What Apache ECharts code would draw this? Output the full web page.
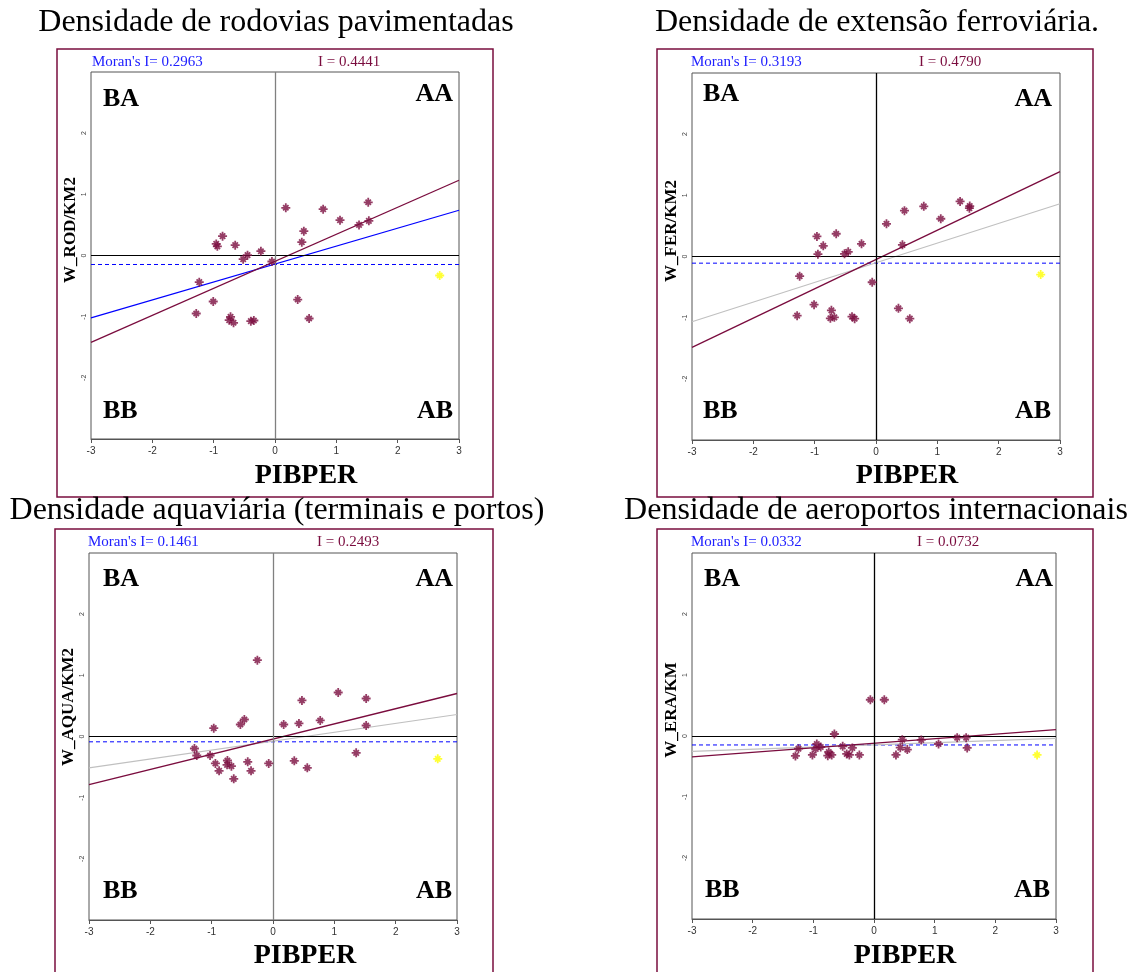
<!DOCTYPE html>
<html><head><meta charset="utf-8">
<script src="https://cdn.jsdelivr.net/npm/echarts@6/dist/echarts.min.js"></script>
<style>html,body{margin:0;padding:0;background:#fff}#c{width:1136px;height:972px}</style>
</head><body><div id="c"></div>
<script>
// ---------- DATA ----------
const titles = ['Densidade de rodovias pavimentadas', 'Densidade de extensão ferroviária.',
  'Densidade aquaviária (terminais e portos)', 'Densidade de aeroportos internacionais'];
const yNames = ['W_ROD/KM2', 'W_FER/KM2', 'W_AQUA/KM2', 'W_ERA/KM'];
const xName = 'PIBPER';
const moranI = ['0.2963', '0.3193', '0.1461', '0.0332'];
const globalI = ['0.4441', '0.4790', '0.2493', '0.0732'];
const quadrants = ['BA', 'AA', 'BB', 'AB'];
const axisMin = -3, axisMax = 3, axisStep = 1;

// Panel 1: rodovias
const rodX = [0.176, 0.785, 1.52, 1.06, 1.37, 1.53, 0.47, 0.437, -0.855, -0.958, -0.94, -0.649, -0.448, -0.519, -0.23, -0.05, -1.235, -1.007, -1.284, -0.725, -0.747, -0.676, -0.394, -0.345, 0.37, 0.556];
const rodY = [0.78, 0.757, 0.87, 0.578, 0.50, 0.567, 0.398, 0.218, 0.316, 0.19, 0.15, 0.169, 0.005, -0.06, 0.07, -0.098, -0.436, -0.752, -0.948, -1.003, -1.057, -1.10, -1.074, -1.063, -0.72, -1.03];
const rodOut = [2.685, -0.327];
const rodFitI = [[-3, -1.42], [3, 1.23]];
const rodFitMoran = [[-3, -1.02], [3, 0.74]];
const rodMean = -0.147;

// Panel 2: ferrovias
const ferX = [0.171, 0.464, 0.779, 1.371, 1.528, 1.523, 1.056, 0.431, -0.649, -0.963, -0.86, -0.947, -0.513, -0.453, -0.236, -0.062, -1.245, -1.01, -1.286, -0.727, -0.744, -0.679, -0.391, -0.348, 0.366, 0.551];
const ferY = [0.535, 0.749, 0.82, 0.90, 0.825, 0.79, 0.617, 0.191, 0.372, 0.328, 0.175, 0.038, 0.044, 0.077, 0.208, -0.421, -0.322, -0.787, -0.967, -0.88, -1.01, -0.995, -0.984, -1.016, -0.847, -1.016];
const ferOut = [2.685, -0.295];
const ferFitI = [[-3, -1.486], [3, 1.388]];
const ferFitMoran = [[-3, -1.066], [3, 0.863]];
const ferMean = -0.109;

// Panel 3: aquaviária
const aquaX = [-0.255, 1.063, 1.519, 0.472, 0.77, 0.423, 0.174, 1.519, -0.467, -0.532, -0.966, -1.281, -1.243, -1.026, -0.939, -0.743, -0.749, -0.678, -0.879, -0.64, -0.412, -0.358, -0.07, 0.347, 0.559, 1.356];
const aquaY = [1.248, 0.719, 0.621, 0.589, 0.262, 0.213, 0.196, 0.18, 0.278, 0.196, 0.136, -0.196, -0.311, -0.311, -0.441, -0.392, -0.463, -0.485, -0.561, -0.692, -0.414, -0.561, -0.441, -0.398, -0.512, -0.267];
const aquaOut = [2.686, -0.365];
const aquaFitI = [[-3, -0.785], [3, 0.703]];
const aquaFitMoran = [[-3, -0.512], [3, 0.36]];
const aquaMean = -0.087;

// Panel 4: aeroportos
const eraX = [-0.06, 0.17, -0.653, -0.943, -0.96, -0.878, -1.245, -1.295, -1.015, -0.746, -0.762, -0.697, -0.516, -0.357, -0.45, -0.406, -0.241, 0.466, 0.433, 0.549, 0.362, 0.779, 1.064, 1.371, 1.519, 1.536];
const eraY = [0.594, 0.594, 0.033, -0.131, -0.213, -0.18, -0.207, -0.327, -0.311, -0.262, -0.322, -0.311, -0.169, -0.196, -0.294, -0.311, -0.311, -0.06, -0.191, -0.223, -0.311, -0.065, -0.131, -0.027, -0.027, -0.196];
const eraOut = [2.688, -0.311];
const eraFitI = [[-3, -0.343], [3, 0.104]];
const eraFitMoran = [[-3, -0.251], [3, -0.038]];
const eraMean = -0.147;

// ---------- LAYOUT / STYLE ----------
const SERIF = '"Liberation Serif", "Times New Roman", serif';
const MAROON = '#7a0c3e';
const FRAME = '#7a0e3e';
const STAR = 'path://M0 8L20 8L20 12L0 12ZM8 0L12 0L12 20L8 20ZM5.4 2.6L17.4 14.6L14.6 17.4L2.6 5.4ZM14.6 2.6L17.4 5.4L5.4 17.4L2.6 14.6Z';

const panels = [
  {xs: rodX, ys: rodY, out: rodOut, fitI: rodFitI, fitM: rodFitMoran, mean: rodMean, moranColor: '#0000ff',
   grid: {left: 91, top: 72, width: 368, height: 367}, vColor: '#808080',
   frame: [57, 49, 436, 448], title: [276, 23], yName: [71, 230], xNameP: [306, 476],
   moranP: [92, 62], iP: [318, 62],
   q: [[103, 99, 'left'], [453, 94, 'right'], [103, 411, 'left'], [453, 411, 'right']]},
  {xs: ferX, ys: ferY, out: ferOut, fitI: ferFitI, fitM: ferFitMoran, mean: ferMean, moranColor: '#c0c0c0',
   grid: {left: 692, top: 73, width: 368, height: 367}, vColor: '#000',
   frame: [657, 49, 436, 448], title: [877, 23], yName: [672, 231], xNameP: [907, 476],
   moranP: [691, 62], iP: [919, 62],
   q: [[703, 94, 'left'], [1052, 99, 'right'], [703, 411, 'left'], [1051, 411, 'right']]},
  {xs: aquaX, ys: aquaY, out: aquaOut, fitI: aquaFitI, fitM: aquaFitMoran, mean: aquaMean, moranColor: '#c0c0c0',
   grid: {left: 89, top: 553, width: 368, height: 367}, vColor: '#808080',
   frame: [55, 529, 438, 470], title: [277, 511], yName: [69, 707], xNameP: [305, 956],
   moranP: [88, 542], iP: [317, 542],
   q: [[103, 579, 'left'], [453, 579, 'right'], [103, 891, 'left'], [452, 891, 'right']]},
  {xs: eraX, ys: eraY, out: eraOut, fitI: eraFitI, fitM: eraFitMoran, mean: eraMean, moranColor: '#c0c0c0',
   grid: {left: 692, top: 553, width: 364, height: 366}, vColor: '#000',
   frame: [657, 529, 436, 470], title: [876, 511], yName: [672, 710], xNameP: [905, 956],
   moranP: [691, 542], iP: [917, 542],
   q: [[704, 579, 'left'], [1053, 579, 'right'], [705, 890, 'left'], [1050, 890, 'right']]}
];

const grids = [], xAxes = [], yAxes = [], series = [], graphics = [];
panels.forEach((p, i) => {
  grids.push(Object.assign({show: true, borderColor: '#555', borderWidth: 1, backgroundColor: '#fff'}, p.grid));
  xAxes.push({gridIndex: i, type: 'value', min: axisMin, max: axisMax, interval: axisStep,
    axisLine: {show: true, onZero: false, lineStyle: {color: '#555', width: 1}},
    axisTick: {show: true, length: 4, lineStyle: {color: '#555'}},
    axisLabel: {fontSize: 10, color: '#333', margin: 7, fontFamily: '"Liberation Sans", sans-serif'},
    splitLine: {show: false}});
  yAxes.push({gridIndex: i, type: 'value', min: axisMin, max: axisMax, interval: axisStep,
    axisLine: {show: false}, axisTick: {show: false},
    axisLabel: {fontSize: 7, color: '#444', rotate: 90, margin: 3,
      formatter: v => (v === axisMin || v === axisMax) ? '' : String(v)},
    splitLine: {show: false}});
  // zero lines
  series.push({type: 'line', xAxisIndex: i, yAxisIndex: i, data: [], silent: true,
    markLine: {symbol: 'none', silent: true, label: {show: false}, animation: false,
      data: [
        {yAxis: 0, lineStyle: {color: '#000', width: 1, type: 'solid'}},
        {xAxis: 0, lineStyle: {color: p.vColor, width: 1.3, type: 'solid'}}
      ]}});
  // dashed mean line
  series.push({type: 'line', xAxisIndex: i, yAxisIndex: i, symbol: 'none', silent: true, animation: false,
    data: [[axisMin, p.mean], [axisMax, p.mean]],
    lineStyle: {color: '#0000ff', width: 1, type: [4, 3]}});
  // moran fit line (blue / gray)
  series.push({type: 'line', xAxisIndex: i, yAxisIndex: i, symbol: 'none', silent: true, animation: false,
    data: p.fitM, lineStyle: {color: p.moranColor, width: 1.2}});
  // I fit line (maroon)
  series.push({type: 'line', xAxisIndex: i, yAxisIndex: i, symbol: 'none', silent: true, animation: false,
    data: p.fitI, lineStyle: {color: MAROON, width: 1.3}});
  // points
  series.push({type: 'scatter', xAxisIndex: i, yAxisIndex: i, symbol: STAR, symbolSize: 9, z: 5, animation: false,
    itemStyle: {color: MAROON}, data: p.xs.map((x, k) => [x, p.ys[k]])});
  series.push({type: 'scatter', xAxisIndex: i, yAxisIndex: i, symbol: STAR, symbolSize: 9, z: 5, animation: false,
    itemStyle: {color: '#ffff00'}, data: [p.out]});

  // frame
  graphics.push({type: 'rect', z: -1, shape: {x: p.frame[0], y: p.frame[1], width: p.frame[2], height: p.frame[3]},
    style: {fill: 'none', stroke: FRAME, lineWidth: 1.5}});
  // title
  graphics.push({type: 'text', x: p.title[0], y: p.title[1], style: {text: titles[i], font: '32px ' + SERIF,
    fill: '#000', align: 'center', verticalAlign: 'middle'}});
  // Moran texts
  graphics.push({type: 'text', x: p.moranP[0], y: p.moranP[1], style: {text: "Moran's I= " + moranI[i],
    font: '15px ' + SERIF, fill: '#2020ff', align: 'left', verticalAlign: 'middle'}});
  graphics.push({type: 'text', x: p.iP[0], y: p.iP[1], style: {text: 'I = ' + globalI[i],
    font: '15px ' + SERIF, fill: MAROON, align: 'left', verticalAlign: 'middle'}});
  // axis names
  graphics.push({type: 'text', x: p.xNameP[0], y: p.xNameP[1], style: {text: xName,
    font: 'bold 28px ' + SERIF, fill: '#000', align: 'center', verticalAlign: 'middle'}});
  graphics.push({type: 'text', x: p.yName[0], y: p.yName[1], rotation: Math.PI / 2, style: {text: yNames[i],
    font: 'bold 17px ' + SERIF, fill: '#000', align: 'center', verticalAlign: 'middle'}});
  // quadrant labels
  p.q.forEach((q, k) => {
    graphics.push({type: 'text', x: q[0], y: q[1], z: 10, style: {text: quadrants[k],
      font: 'bold 26px ' + SERIF, fill: '#000', align: q[2], verticalAlign: 'middle'}});
  });
});

const chart = echarts.init(document.getElementById('c'), null, {renderer: 'canvas'});
chart.setOption({
  animation: false,
  backgroundColor: '#fff',
  grid: grids, xAxis: xAxes, yAxis: yAxes, series: series, graphic: graphics
});
</script></body></html>
